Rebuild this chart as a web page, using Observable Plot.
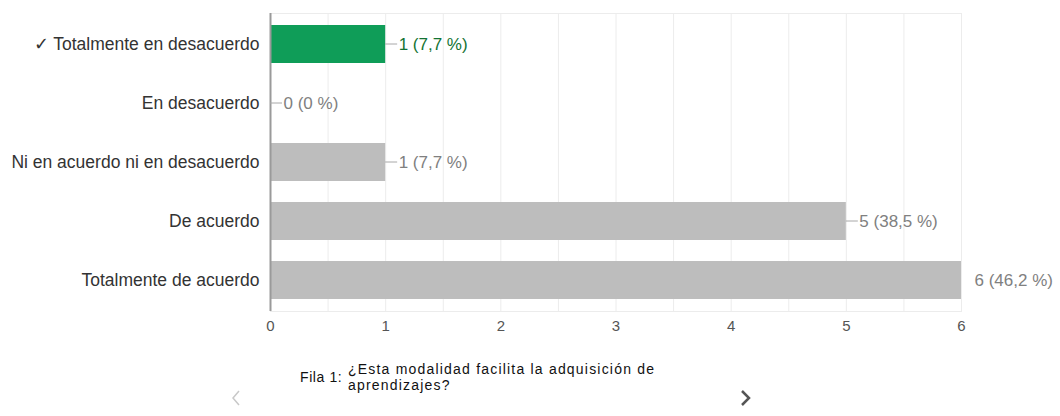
<!DOCTYPE html>
<html><head><meta charset="utf-8">
<script src="https://cdn.jsdelivr.net/npm/d3@7"></script>
<script src="https://cdn.jsdelivr.net/npm/@observablehq/plot@0.6"></script>
<style>
body{margin:0;background:#fff;font-family:"Liberation Sans",Arial,sans-serif;}
#wrap{position:relative;width:1060px;height:416px;overflow:hidden;}
#chart svg{display:block;overflow:hidden;}
.fila{position:absolute;left:300px;top:369px;font-family:"Liberation Sans",Arial,sans-serif;font-size:14px;letter-spacing:0.6px;color:#111;}
.q{position:absolute;left:348px;top:361px;width:330px;font-family:"Liberation Sans",Arial,sans-serif;font-size:14px;line-height:16px;letter-spacing:1.2px;color:#111;}
.nav{position:absolute;top:390px;}
</style></head><body>
<div id="wrap">
<div id="chart"></div>
<svg class="nav" style="left:231px" width="10" height="16"><polyline points="8,1 2,8 8,15" fill="none" stroke="#c8c8c8" stroke-width="1.5"/></svg>
<div class="fila" id="fila"></div>
<div class="q" id="question"></div>
<svg class="nav" style="left:740px" width="12" height="16"><polyline points="2,1 9,8 2,15" fill="none" stroke="#555" stroke-width="2.5"/></svg>
</div>
<script>
const categories = ["Totalmente en desacuerdo","En desacuerdo","Ni en acuerdo ni en desacuerdo","De acuerdo","Totalmente de acuerdo"];
const counts = [1, 0, 1, 5, 6];
const percents = ["7,7", "0", "7,7", "38,5", "46,2"];
const correctAnswer = "Totalmente en desacuerdo";
const xTicks = [0, 1, 2, 3, 4, 5, 6];
const gridTicks = [0, 0.5, 1, 1.5, 2, 2.5, 3, 3.5, 4, 4.5, 5, 5.5, 6];
const rowLabel = "Fila 1:";
const questionText = "¿Esta modalidad facilita la adquisición de aprendizajes?";

document.getElementById("fila").textContent = rowLabel;
document.getElementById("question").textContent = questionText;

const data = categories.map((c, i) => ({category: c, value: counts[i], label: `${counts[i]} (${percents[i]} %)`}));
const GREEN = "#0f9d58", GRAY = "#bdbdbd";
const isCorrect = d => d.category === correctAnswer;

function leaders(index, scales, values, dims) {
  const g = d3.create("svg:g");
  const right = dims.width - dims.marginRight;
  const bw = scales.y.bandwidth ? scales.y.bandwidth() : 0;
  for (const d of data) {
    const x = scales.x(d.value);
    const y = scales.y(d.category) + bw / 2;
    const x2 = Math.min(x + 12, right);
    if (x2 > x) g.append("line").attr("x1", x).attr("x2", x2).attr("y1", y).attr("y2", y)
      .attr("stroke", "#a8a8a8").attr("stroke-width", 1);
  }
  return g.node();
}

const chart = Plot.plot({
  width: 1060,
  height: 345,
  marginLeft: 270,
  marginRight: 99,
  marginTop: 13,
  marginBottom: 34,
  style: {fontFamily: '"Liberation Sans", Arial, sans-serif', fontSize: "17.5px", color: "#333", background: "#fff"},
  x: {domain: [0, 6]},
  y: {domain: categories, paddingInner: 0.36, paddingOuter: 0.18},
  marks: [
    Plot.gridX(gridTicks, {stroke: "#ececec", strokeOpacity: 1}),
    Plot.frame({stroke: "#ececec"}),
    Plot.barX(data, {x: "value", y: "category", fill: d => isCorrect(d) ? GREEN : GRAY}),
    Plot.ruleX([0], {stroke: "#9a9a9a", strokeWidth: 2}),
    leaders,
    Plot.text(data, {x: "value", y: "category", text: "label", textAnchor: "start", dx: 13,
      fill: d => isCorrect(d) ? "#137333" : "#808080", fontSize: 17}),
    Plot.axisX({ticks: xTicks, tickSize: 0, tickPadding: 9, tickFormat: d3.format("d"), fill: "#555", fontSize: 15, label: null}),
    Plot.axisY({tickSize: 0, tickPadding: 11, fill: "#333", label: null,
      tickFormat: d => d === correctAnswer ? "✓ " + d : d})
  ]
});
document.getElementById("chart").appendChild(chart);
</script>
</body></html>
